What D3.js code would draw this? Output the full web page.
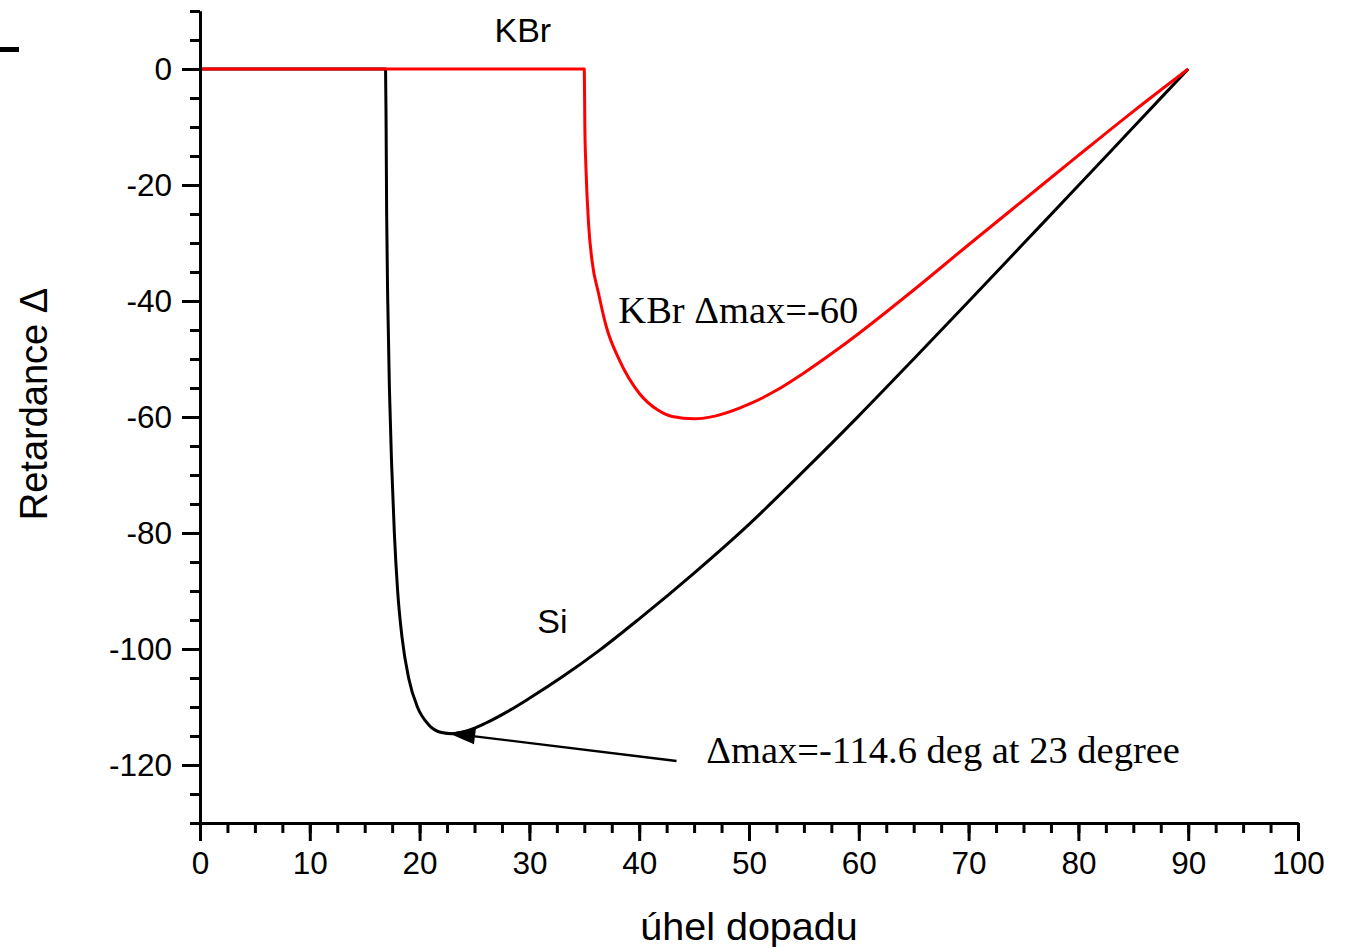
<!DOCTYPE html>
<html>
<head>
<meta charset="utf-8">
<script src="https://cdn.jsdelivr.net/npm/d3@7"></script>
<style>
  html, body { margin: 0; padding: 0; background: #fff; }
  svg { display: block; }
</style>
</head>
<body>
<svg id="chart" width="1345" height="947"></svg>
<script>
// ---- data ----
const siAngle = [0, 16.9, 16.95, 17.0, 17.1, 17.25, 17.45, 17.7, 18.0, 18.4, 19.0, 19.8, 20.8, 22.0, 23, 24.5, 26, 28, 30, 33, 36.4, 40, 45, 50, 55, 60, 65, 70, 75, 80, 85, 90];
const siDelta = [0, 0, -10, -25, -40, -55, -68, -80, -90, -98, -105, -110, -113, -114.4, -114.6, -114.0, -112.8, -110.8, -108.5, -104.8, -100.2, -94.8, -86.9, -78.5, -69.3, -59.8, -50.0, -40.1, -30.1, -20.1, -10.05, 0];

const kbrAngle = [0, 35, 35.05, 35.15, 35.4, 35.7, 36.3, 37.0, 38.2, 40.0, 41.7, 43, 45, 47, 50, 52.5, 55, 57.5, 60, 62.5, 65, 70, 75, 80, 85, 90];
const kbrDelta = [0, 0, -10, -17, -27, -33, -38.7, -44.4, -50.2, -55.9, -58.8, -59.9, -60.3, -59.8, -57.8, -55.4, -52.4, -49.1, -45.6, -41.9, -38.1, -30.3, -22.6, -14.9, -7.3, 0];

const xMajorTicks = [0, 10, 20, 30, 40, 50, 60, 70, 80, 90, 100];
const yMajorTicks = [-120, -100, -80, -60, -40, -20, 0];
const xMinorTicks = d3.range(0, 100.01, 2.5);
const yMinorTicks = d3.range(-130, 10.01, 5);

const xTitle = "úhel dopadu";
const yTitle = "Retardance Δ";
const labelKBrTop = "KBr";
const labelKBr = "KBr Δmax=-60";
const labelSi = "Si";
const labelSiMax = "Δmax=-114.6 deg at 23 degree";

// ---- layout ----
const svg = d3.select("#chart");
const sans = "'Liberation Sans', Arial, Helvetica, sans-serif";
const serif = "'Liberation Serif', 'Times New Roman', Times, serif";

const x = d3.scaleLinear().domain([0, 100]).range([200, 1298]);
const y = d3.scaleLinear().domain([-130, 10]).range([823, 11]);

// small mark at top-left
svg.append("rect").attr("x", 0).attr("y", 47).attr("width", 19).attr("height", 5).attr("fill", "#000");

// curves
const line = d3.line().x(d => x(d[0])).y(d => y(d[1])).curve(d3.curveMonotoneX);
const siData = siAngle.map((a, i) => [a, siDelta[i]]);
const kbrData = kbrAngle.map((a, i) => [a, kbrDelta[i]]);

svg.append("path").datum(siData).attr("d", line)
  .attr("fill", "none").attr("stroke", "#000").attr("stroke-width", 3).attr("stroke-linejoin", "round");
svg.append("path").datum(kbrData).attr("d", line)
  .attr("fill", "none").attr("stroke", "#ff0000").attr("stroke-width", 3).attr("stroke-linejoin", "round");

// axes
function styleAxis(g) {
  g.selectAll("path.domain").attr("stroke", "#000").attr("stroke-width", 3);
  g.selectAll(".tick line").attr("stroke", "#000").attr("stroke-width", 3);
  g.selectAll("text").attr("fill", "#000").attr("font-family", sans).attr("font-size", 31.5);
}

const yMinor = svg.append("g").attr("transform", `translate(${x(0)},0)`)
  .call(d3.axisLeft(y).tickValues(yMinorTicks).tickSize(10).tickSizeOuter(0).tickFormat(""));
yMinor.call(styleAxis);
const yMajor = svg.append("g").attr("transform", `translate(${x(0)},0)`)
  .call(d3.axisLeft(y).tickValues(yMajorTicks).tickSize(18).tickSizeOuter(0).tickPadding(10).tickFormat(d => String(d)));
yMajor.call(styleAxis);

const xMinor = svg.append("g").attr("transform", `translate(0,${y(-130)})`)
  .call(d3.axisBottom(x).tickValues(xMinorTicks).tickSize(10).tickSizeOuter(0).tickFormat(""));
xMinor.call(styleAxis);
const xMajor = svg.append("g").attr("transform", `translate(0,${y(-130)})`)
  .call(d3.axisBottom(x).tickValues(xMajorTicks).tickSize(18).tickSizeOuter(0).tickPadding(11).tickFormat(d => String(d)));
xMajor.call(styleAxis);

// axis titles
svg.append("text").attr("x", x(50)).attr("y", 940).attr("text-anchor", "middle")
  .attr("font-family", sans).attr("font-size", 39.5).attr("fill", "#000").text(xTitle);
svg.append("text").attr("transform", `translate(47,${404}) rotate(-90)`).attr("text-anchor", "middle")
  .attr("font-family", sans).attr("font-size", 38).attr("fill", "#000").text(yTitle);

// annotations
svg.append("text").attr("x", x(29.4)).attr("y", y(4.6)).attr("text-anchor", "middle")
  .attr("font-family", sans).attr("font-size", 34).attr("fill", "#000").text(labelKBrTop);
svg.append("text").attr("x", x(38.1)).attr("y", y(-43.8)).attr("text-anchor", "start")
  .attr("font-family", serif).attr("font-size", 38.5).attr("fill", "#000").text(labelKBr);
svg.append("text").attr("x", x(32.1)).attr("y", y(-97.3)).attr("text-anchor", "middle")
  .attr("font-family", sans).attr("font-size", 34).attr("fill", "#000").text(labelSi);
svg.append("text").attr("x", x(46.1)).attr("y", y(-119.6)).attr("text-anchor", "start")
  .attr("font-family", serif).attr("font-size", 38.5).attr("fill", "#000").text(labelSiMax);

// arrow
const tail = [x(43.4), y(-119.3)];
const tip = [x(22.6), y(-114.5)];
const ang = Math.atan2(tip[1] - tail[1], tip[0] - tail[0]);
const headLen = 27, headW = 8;
const base = [tip[0] - headLen * Math.cos(ang), tip[1] - headLen * Math.sin(ang)];
svg.append("line").attr("x1", tail[0]).attr("y1", tail[1]).attr("x2", base[0]).attr("y2", base[1])
  .attr("stroke", "#000").attr("stroke-width", 2.4);
const px = -Math.sin(ang), py = Math.cos(ang);
svg.append("polygon").attr("points", [
  tip,
  [base[0] + px * headW, base[1] + py * headW],
  [base[0] - px * headW, base[1] - py * headW]
].map(p => p.join(",")).join(" ")).attr("fill", "#000");
</script>
</body>
</html>
